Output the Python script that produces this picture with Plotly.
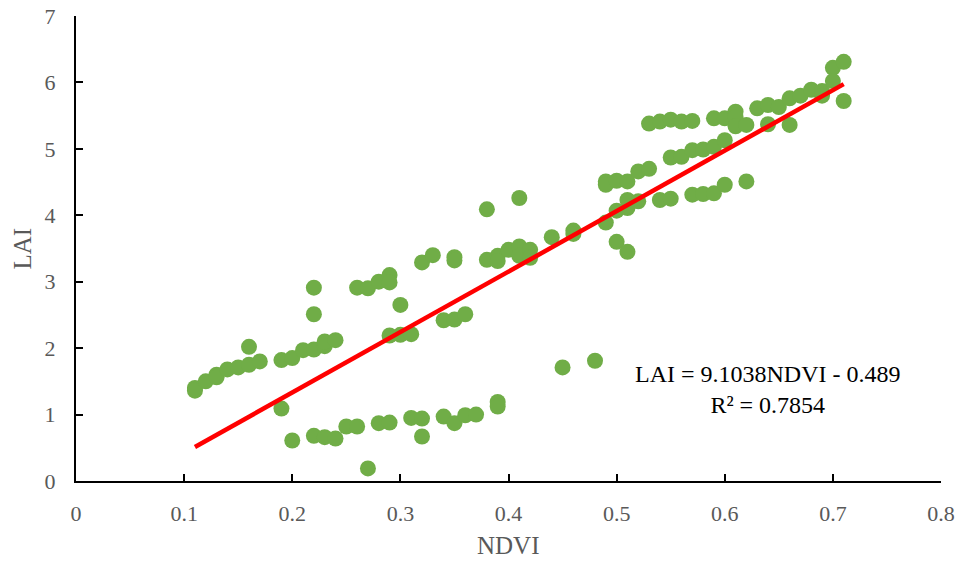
import plotly.graph_objects as go

ndvi = [0.11, 0.11, 0.12, 0.13, 0.13, 0.14, 0.15, 0.16, 0.16, 0.17,
        0.19, 0.19, 0.20, 0.20, 0.21, 0.22, 0.22, 0.22, 0.22, 0.23,
        0.23, 0.23, 0.24, 0.24, 0.25, 0.26, 0.26, 0.27, 0.27, 0.28,
        0.28, 0.29, 0.29, 0.29, 0.29, 0.30, 0.30, 0.31, 0.31, 0.32,
        0.32, 0.32, 0.33, 0.34, 0.34, 0.35, 0.35, 0.35, 0.35, 0.36,
        0.36, 0.37, 0.38, 0.38, 0.39, 0.39, 0.39, 0.39, 0.40, 0.41,
        0.41, 0.41, 0.42, 0.42, 0.44, 0.45, 0.46, 0.46, 0.48, 0.49,
        0.49, 0.49, 0.50, 0.50, 0.50, 0.51, 0.51, 0.51, 0.51, 0.52,
        0.52, 0.53, 0.53, 0.54, 0.54, 0.55, 0.55, 0.55, 0.56, 0.56,
        0.57, 0.57, 0.57, 0.58, 0.58, 0.59, 0.59, 0.59, 0.60, 0.60,
        0.60, 0.61, 0.61, 0.61, 0.62, 0.62, 0.63, 0.64, 0.64, 0.65,
        0.66, 0.66, 0.67, 0.68, 0.69, 0.69, 0.70, 0.70, 0.71, 0.71]
lai = [1.40, 1.36, 1.50, 1.60, 1.56, 1.68, 1.71, 1.75, 2.02, 1.80,
       1.82, 1.09, 1.85, 0.61, 1.97, 1.98, 2.51, 2.91, 0.68, 2.03,
       2.10, 0.66, 2.12, 0.64, 0.82, 2.91, 0.82, 2.90, 0.19, 3.00,
       0.87, 3.10, 2.99, 2.19, 0.88, 2.65, 2.20, 2.21, 0.95, 3.29,
       0.94, 0.67, 3.40, 2.42, 0.97, 3.37, 3.32, 2.43, 0.87, 2.51,
       0.99, 1.00, 4.09, 3.33, 3.39, 3.31, 1.19, 1.12, 3.48, 4.26,
       3.53, 3.39, 3.48, 3.36, 3.67, 1.71, 3.77, 3.72, 1.81, 4.51,
       4.46, 3.89, 4.52, 4.07, 3.60, 4.51, 4.23, 4.11, 3.45, 4.66,
       4.21, 4.70, 5.38, 5.41, 4.23, 5.44, 4.87, 4.25, 5.41, 4.88,
       5.42, 4.98, 4.31, 4.99, 4.32, 5.46, 5.03, 4.33, 5.46, 5.13,
       4.46, 5.56, 5.48, 5.34, 5.36, 4.51, 5.61, 5.66, 5.37, 5.63,
       5.76, 5.36, 5.80, 5.89, 5.87, 5.80, 6.22, 6.02, 6.31, 5.72]

slope = 9.1038
intercept = -0.489
r2 = 0.7854

x_ticks = [0, 0.1, 0.2, 0.3, 0.4, 0.5, 0.6, 0.7, 0.8]
x_tick_labels = ["0", "0.1", "0.2", "0.3", "0.4", "0.5", "0.6", "0.7", "0.8"]
y_ticks = [0, 1, 2, 3, 4, 5, 6, 7]
y_tick_labels = ["0", "1", "2", "3", "4", "5", "6", "7"]

x_fit = [min(ndvi), max(ndvi)]
y_fit = [slope * v + intercept for v in x_fit]

font_family = "Liberation Serif, Times New Roman, serif"

fig = go.Figure()
fig.add_trace(go.Scatter(x=ndvi, y=lai, mode="markers",
                         marker=dict(color="#70AD47", size=16, line=dict(width=0)),
                         showlegend=False, cliponaxis=False))
fig.add_trace(go.Scatter(x=x_fit, y=y_fit, mode="lines",
                         line=dict(color="#FF0000", width=4.5),
                         showlegend=False))

axis_common = dict(showgrid=False, zeroline=False, showline=True,
                   linecolor="black", linewidth=2, ticks="inside",
                   ticklen=7, tickwidth=2, tickcolor="black",
                   tickfont=dict(family=font_family, size=22, color="#595959"),
                   mirror=False, automargin=False)

fig.update_xaxes(range=[0, 0.8], tickvals=x_ticks, ticktext=x_tick_labels,
                 ticklabelstandoff=12, **axis_common)
fig.update_yaxes(range=[0, 7], tickvals=y_ticks, ticktext=y_tick_labels,
                 ticklabelstandoff=14, **axis_common)

fig.add_annotation(x=0.5, y=0, xref="paper", yref="paper", yanchor="middle",
                   yshift=-64, text="NDVI", showarrow=False,
                   font=dict(family=font_family, size=25, color="#595959"))
fig.add_annotation(x=0, y=0.5, xref="paper", yref="paper", xanchor="center",
                   xshift=-54, text="LAI", textangle=-90, showarrow=False,
                   font=dict(family=font_family, size=25, color="#595959"))
fig.add_annotation(x=0.64, y=1.38, xref="x", yref="y", xanchor="center",
                   text=f"LAI = {slope}NDVI - {abs(intercept)}<br>R² = {r2}",
                   showarrow=False, align="center",
                   font=dict(family=font_family, size=24, color="black"))

fig.update_layout(width=959, height=563, autosize=False,
                  plot_bgcolor="white", paper_bgcolor="white",
                  margin=dict(l=76, r=18, t=16, b=82, autoexpand=False))

fig.write_html("out.html", config={"displayModeBar": False},
               post_script="document.body.style.margin='0';document.body.style.overflow='hidden';")
